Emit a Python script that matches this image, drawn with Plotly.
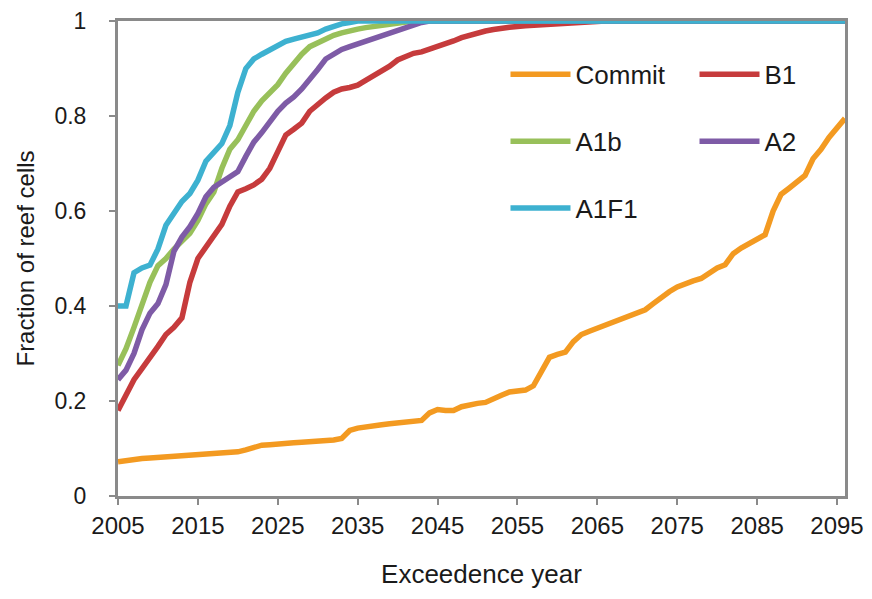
import plotly.graph_objects as go

# ---- data ----
commit_years = list(range(2005, 2097))
commit_vals = [0.072, 0.075, 0.078, 0.079, 0.080, 0.081, 0.082, 0.083, 0.084, 0.086,
               0.088, 0.089, 0.090, 0.091, 0.092, 0.093, 0.097, 0.103, 0.107, 0.108,
               0.110, 0.111, 0.112, 0.113, 0.114, 0.115, 0.116, 0.118, 0.121, 0.138,
               0.143, 0.146, 0.148, 0.150, 0.152, 0.154, 0.155, 0.157, 0.159, 0.175,
               0.182, 0.180, 0.180, 0.188, 0.193, 0.195, 0.197, 0.203, 0.212, 0.219,
               0.222, 0.223, 0.232, 0.265, 0.292, 0.298, 0.303, 0.325, 0.340, 0.347,
               0.353, 0.360, 0.367, 0.373, 0.379, 0.384, 0.392, 0.405, 0.418, 0.430,
               0.440, 0.448, 0.453, 0.458, 0.470, 0.480, 0.487, 0.510, 0.522, 0.532,
               0.540, 0.550, 0.600, 0.635, 0.648, 0.660, 0.675, 0.710, 0.730, 0.755,
               0.775, 0.795]

b1_years = [2005, 2006, 2007, 2008, 2009, 2010, 2011, 2012, 2013, 2014, 2015, 2016,
            2017, 2018, 2019, 2020, 2021, 2022, 2023, 2024, 2025, 2026, 2027, 2028,
            2029, 2030, 2031, 2032, 2033, 2034, 2035, 2036, 2037, 2038, 2039, 2040,
            2041, 2042, 2043, 2044, 2045, 2046, 2047, 2048, 2049, 2050, 2051, 2052,
            2053, 2054, 2056, 2058, 2061, 2064, 2066, 2096]
b1_vals = [0.180, 0.210, 0.245, 0.268, 0.290, 0.315, 0.340, 0.355, 0.375, 0.450,
           0.500, 0.525, 0.550, 0.572, 0.610, 0.640, 0.647, 0.655, 0.667, 0.690,
           0.725, 0.760, 0.772, 0.785, 0.810, 0.825, 0.838, 0.850, 0.857, 0.860,
           0.865, 0.875, 0.885, 0.892, 0.905, 0.918, 0.926, 0.932, 0.935, 0.940,
           0.945, 0.950, 0.958, 0.965, 0.970, 0.975, 0.979, 0.982, 0.985, 0.987,
           0.990, 0.992, 0.994, 0.996, 1.0, 1.0]

a1b_years = list(range(2005, 2043)) + [2096]
a1b_vals = [0.275, 0.310, 0.355, 0.405, 0.450, 0.485, 0.500, 0.520, 0.537, 0.553,
            0.580, 0.615, 0.640, 0.690, 0.730, 0.750, 0.780, 0.810, 0.832, 0.850,
            0.866, 0.890, 0.912, 0.930, 0.946, 0.955, 0.963, 0.970, 0.975, 0.980,
            0.983, 0.986, 0.988, 0.990, 0.993, 0.995, 0.997, 1.0, 1.0]

a2_years = list(range(2005, 2045)) + [2096]
a2_vals = [0.245, 0.265, 0.300, 0.350, 0.385, 0.405, 0.445, 0.515, 0.545, 0.567,
           0.595, 0.630, 0.650, 0.660, 0.672, 0.683, 0.715, 0.745, 0.765, 0.790,
           0.810, 0.827, 0.840, 0.857, 0.876, 0.898, 0.920, 0.930, 0.940, 0.946,
           0.952, 0.956, 0.963, 0.970, 0.976, 0.982, 0.987, 0.993, 0.997, 1.0, 1.0]

a1f1_years = list(range(2005, 2036)) + [2096]
a1f1_vals = [0.400, 0.400, 0.470, 0.480, 0.486, 0.520, 0.570, 0.595, 0.620, 0.637,
             0.665, 0.705, 0.722, 0.742, 0.780, 0.850, 0.900, 0.920, 0.930, 0.940,
             0.950, 0.957, 0.962, 0.966, 0.970, 0.975, 0.983, 0.990, 0.994, 0.997,
             1.0, 1.0]

x_ticks = [2005, 2015, 2025, 2035, 2045, 2055, 2065, 2075, 2085, 2095]
y_ticks = [0, 0.2, 0.4, 0.6, 0.8, 1]

series = [
    ("Commit", commit_years, commit_vals, "#F39A21", "legend"),
    ("B1", b1_years, b1_vals, "#C63B3C", "legend2"),
    ("A1b", a1b_years, a1b_vals, "#98C05A", "legend"),
    ("A2", a2_years, a2_vals, "#7E5BA6", "legend2"),
    ("A1F1", a1f1_years, a1f1_vals, "#3DB1D0", "legend"),
]

FONT = "Liberation Sans, Arial, sans-serif"
AX = "#8a8a8a"
TXT = "#1a1a1a"

fig = go.Figure()
for name, xs, ys, col, lg in series:
    fig.add_trace(go.Scatter(x=xs, y=ys, mode="lines", name=name,
                             line=dict(color=col, width=5.5),
                             legend=lg, legendgroup=name))

legend_common = dict(font=dict(family=FONT, size=26, color=TXT),
                     bgcolor="rgba(0,0,0,0)", itemwidth=60,
                     tracegroupgap=30, xanchor="left", yanchor="top")

# page body adds an 8px offset, so the figure is sized to fit the window
fig.update_layout(
    width=864, height=591,
    margin=dict(l=110, r=27, t=13, b=103, autoexpand=False),
    paper_bgcolor="white", plot_bgcolor="white",
    font=dict(family=FONT, color=TXT),
    legend=dict(x=0.533, y=0.937, **legend_common),
    legend2=dict(x=0.793, y=0.937, **legend_common),
    xaxis=dict(range=[2005, 2096], tickvals=x_ticks, ticktext=[str(t) for t in x_ticks],
               showgrid=False, zeroline=False, showline=True, mirror=True,
               linecolor=AX, linewidth=3, ticks="outside", ticklen=6, tickwidth=2,
               tickcolor=AX, tickfont=dict(size=24, family=FONT, color=TXT),
               title=dict(text="Exceedence year", font=dict(size=26, family=FONT, color=TXT),
                          standoff=28)),
    yaxis=dict(range=[0, 1], tickvals=y_ticks, ticktext=["0", "0.2", "0.4", "0.6", "0.8", "1"],
               showgrid=False, zeroline=False, showline=True, mirror=True,
               linecolor=AX, linewidth=3, ticks="outside", ticklen=6, tickwidth=2,
               tickcolor=AX, tickfont=dict(size=23, family=FONT, color=TXT),
               ticklabelstandoff=18,
               title=dict(text="Fraction of reef cells", font=dict(size=24, family=FONT, color=TXT),
                          standoff=14)),
)

fig.write_html("out.html")
